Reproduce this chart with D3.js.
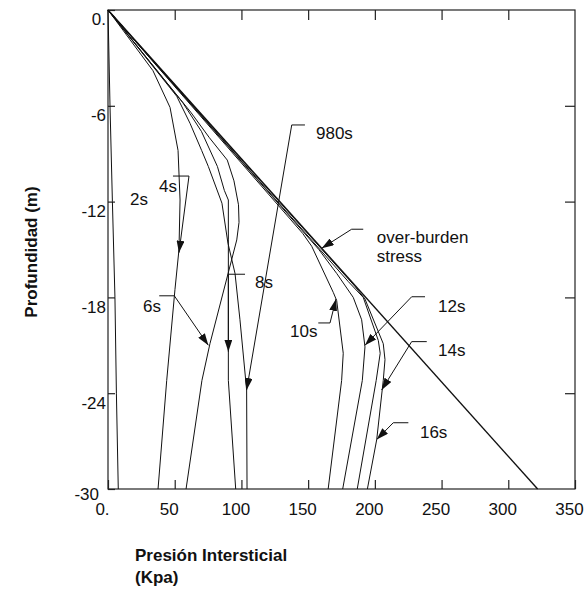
<!DOCTYPE html>
<html>
<head>
<meta charset="utf-8">
<script src="https://cdn.jsdelivr.net/npm/d3@7"></script>
<style>
  body { margin: 0; background: #fff; }
  svg text { font-family: "Liberation Sans", Arial, sans-serif; fill: #111; }
</style>
</head>
<body>
<div id="viz-container"></div>
<script>
// pore pressure (kPa) vs depth (m)
var overburden = [[0, 0], [322, -30]];
var s2 = [[0, 0], [1.5, -6], [3.3, -12], [5.2, -18], [6.3, -24], [7.7, -30]];
var s4 = [[0, 0], [33.7, -3.8], [46.5, -6.1], [52.5, -8.8], [54, -11.9], [53.2, -15], [50.2, -17.5], [44, -23.2], [37.5, -30]];
var s6 = [[0, 0], [62, -6.4], [76, -8.0], [89.4, -9.4], [94.4, -10.7], [97.8, -12.2], [98.2, -13.3], [96.5, -14.4], [76.4, -20.9], [70.4, -23.2], [58.5, -30]];
var s8 = [[0, 0], [56, -5.8], [70, -7.6], [82, -9.8], [87.2, -11.3], [90.2, -11.9], [90.2, -14.4], [90.2, -23.2], [95.7, -30]];
var s980 = [[0, 0], [51.5, -5.4], [61.5, -7.1], [70.2, -8.8], [75.2, -9.8], [85.4, -12.1], [89.9, -14.6], [95.2, -16.5], [98.9, -19.4], [103.9, -23.8], [104.2, -30]];
var s10 = [[0, 0], [146, -14], [152.7, -14.8], [168.9, -17.7], [171.4, -18.2], [176.3, -21.5], [175.1, -23.2], [165, -30]];
var s12 = [[0, 0], [158, -15], [171.4, -16.5], [183.8, -18], [190.1, -19.4], [192.6, -21.1], [190.6, -23.2], [175.9, -30]];
var s14 = [[0, 0], [180, -17], [191.3, -18], [202.6, -20.7], [204, -21.5], [201, -23.2], [186.8, -30]];
var s16 = [[0, 0], [185, -17.3], [192.6, -18.1], [206.3, -20.9], [207.6, -21.9], [206.3, -23.2], [201.4, -26.9], [194.4, -30]];

var series = [overburden, s2, s4, s6, s8, s980, s10, s12, s14, s16];

var xTicks = [0, 50, 100, 150, 200, 250, 300, 350];
var yTicks = [0, -6, -12, -18, -24, -30];

// annotation text, text anchor and leader path (data units)
var labelText = ["2s", "4s", "6s", "8s", "980s", "10s", "12s", "14s", "16s"];
var labelAt = [[16.5, -12.2], [38.2, -11.4], [26.2, -18.9], [110.2, -17.4], [155.9, -8.1], [136.4, -20.5], [247.3, -18.9], [247.3, -21.7], [233.8, -26.8]];
var leaders = [
  null,
  [[48.7, -10.4], [60.7, -10.4], [53.2, -15.2]],
  [[38.4, -17.9], [49.7, -17.9], [75.2, -21.0]],
  [[102.7, -16.55], [90.2, -16.55], [90.2, -21.4]],
  [[147.6, -7.2], [137.7, -7.2], [103.9, -23.8]],
  [[157.6, -19.6], [166.4, -19.6], [170.9, -18.1]],
  [[237.6, -17.96], [227.6, -17.96], [192.6, -21.0]],
  [[238.9, -20.77], [227.6, -20.77], [205.1, -23.8]],
  [[225.1, -25.85], [213.8, -25.85], [201.4, -26.9]]
];
var obText = ["over-burden", "stress"];
var obAt = [[201.4, -14.6], [201.4, -15.8]];
var obLeader = [[191.3, -13.73], [182.6, -13.73], [160.2, -14.92]];

var width = 584, height = 599;
var x = d3.scaleLinear().domain([0, 350]).range([108, 575]);
var y = d3.scaleLinear().domain([0, -30]).range([10, 489]);

var svg = d3.select('#viz-container')
  .append('svg')
  .attr("width", width)
  .attr("height", height);

svg.append('defs').append('marker')
  .attr("id", "arrow")
  .attr("viewBox", "0 0 12 8")
  .attr("refX", 12)
  .attr("refY", 4)
  .attr("markerWidth", 12)
  .attr("markerHeight", 8)
  .attr("markerUnits", "userSpaceOnUse")
  .attr("orient", "auto")
  .append('path')
  .attr("d", "M0,0 L12,4 L0,8 Z")
  .style('fill', '#111');

var line = d3.line()
  .x(function (d) { return x(d[0]); })
  .y(function (d) { return y(d[1]); });

// frame
svg.append('rect')
  .attr("x", x(0))
  .attr("y", y(0))
  .attr("width", x(350) - x(0))
  .attr("height", y(-30) - y(0))
  .style('fill', 'none')
  .style('stroke', '#222')
  .style('stroke-width', 1.2);

var fmt = function (d) { return d === 0 ? "0." : d; };

var bottom = svg.append('g')
  .attr("transform", "translate(0," + y(-30) + ")")
  .call(d3.axisBottom(x).tickValues(xTicks).tickSize(-9).tickPadding(14).tickFormat(fmt));
bottom.selectAll("text").attr("dx", "-6");

var left = svg.append('g')
  .attr("transform", "translate(" + x(0) + ",0)")
  .call(d3.axisLeft(y).tickValues(yTicks).tickSize(-7).tickPadding(2).tickFormat(fmt));
left.selectAll("text")
  .attr("dy", function (d) { return d === -30 ? "0.62em" : "0.88em"; })
  .attr("dx", function (d) { return d === -30 ? -7 : 0; });

svg.append('g')
  .attr("transform", "translate(0," + y(0) + ")")
  .call(d3.axisTop(x).tickValues(xTicks.slice(1, -1)).tickSize(-10).tickFormat(""));

svg.append('g')
  .attr("transform", "translate(" + x(350) + ",0)")
  .call(d3.axisRight(y).tickValues(yTicks.slice(1, -1)).tickSize(-10).tickFormat(""));

svg.selectAll(".domain").remove();
svg.selectAll(".tick line").style('stroke', '#222').style('stroke-width', 1.2);
svg.selectAll(".tick text")
  .style('font-size', '17px')
  .style('font-family', '"Liberation Sans", Arial, sans-serif')
  .style('fill', '#111');

// curves
svg.append('g')
  .selectAll("path")
  .data(series)
  .enter()
  .append("path")
  .attr("d", line)
  .style('fill', 'none')
  .style('stroke', '#111')
  .style('stroke-width', function (d, i) { return i === 0 ? 1.4 : 1; });

// labels with leaders
var notes = svg.append('g');

leaders.forEach(function (pts) {
  if (!pts) return;
  notes.append('path')
    .attr("d", line(pts))
    .attr("marker-end", "url(#arrow)")
    .style('fill', 'none')
    .style('stroke', '#111')
    .style('stroke-width', 1);
});

notes.append('path')
  .attr("d", line(obLeader))
  .attr("marker-end", "url(#arrow)")
  .style('fill', 'none')
  .style('stroke', '#111')
  .style('stroke-width', 1);

labelText.forEach(function (t, i) {
  notes.append('text')
    .text(t)
    .attr("x", x(labelAt[i][0]))
    .attr("y", y(labelAt[i][1]))
    .style('font-size', '17px');
});

obText.forEach(function (t, i) {
  notes.append('text')
    .text(t)
    .attr("x", x(obAt[i][0]))
    .attr("y", y(obAt[i][1]))
    .style('font-size', '17px');
});

// axis titles
svg.append('text')
  .text("Profundidad (m)")
  .attr("transform", "translate(37,252) rotate(-90)")
  .attr("text-anchor", "middle")
  .style('font-size', '17px')
  .style('font-weight', 'bold');

svg.append('text')
  .text("Presión Intersticial")
  .attr("x", 135)
  .attr("y", 561)
  .style('font-size', '17px')
  .style('font-weight', 'bold');

svg.append('text')
  .text("(Kpa)")
  .attr("x", 135)
  .attr("y", 583)
  .style('font-size', '17px')
  .style('font-weight', 'bold');
</script>
</body>
</html>
